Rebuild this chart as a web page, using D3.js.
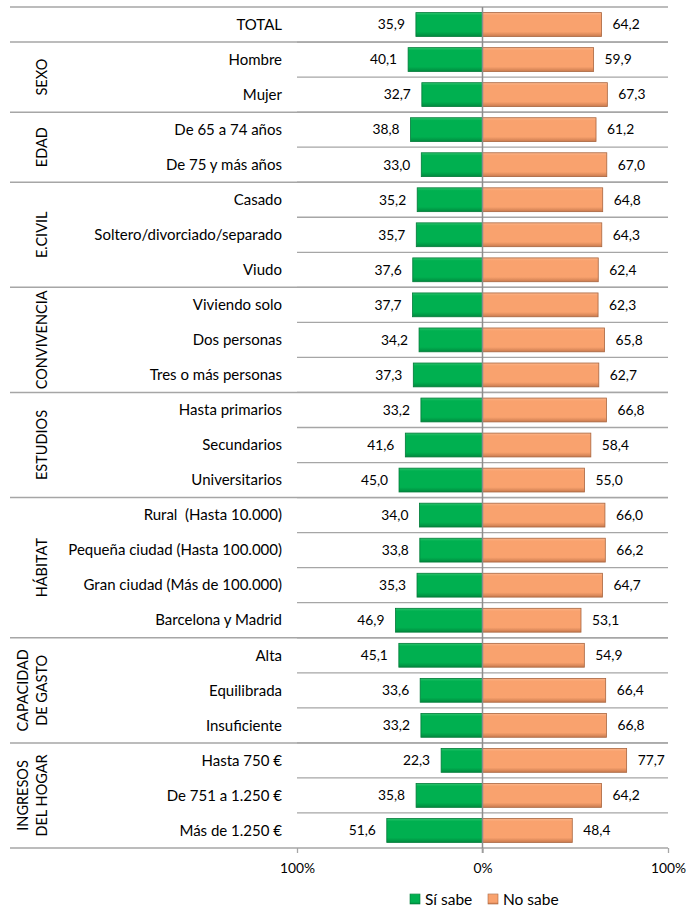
<!DOCTYPE html>
<html>
<head>
<meta charset="utf-8">
<script src="https://cdn.jsdelivr.net/npm/d3@7"></script>
<style>
  body { margin: 0; background: #fff; }
  text { font-family: Lato, "Open Sans", sans-serif; fill: #000; white-space: pre; }
</style>
</head>
<body>
<div id="graph"></div>
<script>
const categories = ["TOTAL", "Hombre", "Mujer", "De 65 a 74 años", "De 75 y más años",
  "Casado", "Soltero/divorciado/separado", "Viudo", "Viviendo solo", "Dos personas",
  "Tres o más personas", "Hasta primarios", "Secundarios", "Universitarios",
  "Rural  (Hasta 10.000)", "Pequeña ciudad (Hasta 100.000)", "Gran ciudad (Más de 100.000)",
  "Barcelona y Madrid", "Alta", "Equilibrada", "Insuficiente", "Hasta 750 €",
  "De 751 a 1.250 €", "Más de 1.250 €"];
const siSabe = [35.9, 40.1, 32.7, 38.8, 33.0, 35.2, 35.7, 37.6, 37.7, 34.2, 37.3, 33.2, 41.6,
  45.0, 34.0, 33.8, 35.3, 46.9, 45.1, 33.6, 33.2, 22.3, 35.8, 51.6];
const noSabe = [64.2, 59.9, 67.3, 61.2, 67.0, 64.8, 64.3, 62.4, 62.3, 65.8, 62.7, 66.8, 58.4,
  55.0, 66.0, 66.2, 64.7, 53.1, 54.9, 66.4, 66.8, 77.7, 64.2, 48.4];
const groupNames = [[""], ["SEXO"], ["EDAD"], ["E.CIVIL"], ["CONVIVENCIA"], ["ESTUDIOS"],
  ["HÁBITAT"], ["CAPACIDAD", "DE GASTO"], ["INGRESOS", "DEL HOGAR"]];
const groupSizes = [1, 2, 2, 3, 3, 3, 4, 3, 3];
const tickValues = [-100, 0, 100];
const seriesNames = ["Sí sabe", "No sabe"];

const width = 686;
const height = 912;
const plotTop = 7;
const plotBottom = 848;
const lineLeft = 10;
const lineRight = 668;

const green = "#00b050";
const greenEdge = "#007a38";
const orange = "#f9a26e";
const orangeEdge = "#a8653f";
const gridColor = "#a6a6a6";

const svg = d3.select("#graph").append("svg")
  .attr("width", width)
  .attr("height", height);

const defs = svg.append("defs");
function bevel(id, c0, c1, c2) {
  const g = defs.append("linearGradient").attr("id", id)
    .attr("x1", 0).attr("y1", 0).attr("x2", 0).attr("y2", 1);
  g.append("stop").attr("offset", "0%").attr("stop-color", c0);
  g.append("stop").attr("offset", "12%").attr("stop-color", c1);
  g.append("stop").attr("offset", "80%").attr("stop-color", c1);
  g.append("stop").attr("offset", "100%").attr("stop-color", c2);
}
bevel("gGreen", "#2cc46c", green, "#008a3e");
bevel("gOrange", "#fbb68c", orange, "#c97a4e");

const xScale = d3.scaleLinear().domain([-100, 100]).range([297, lineRight]);
const yScale = d3.scaleBand().domain(categories).range([plotTop, plotBottom]).paddingInner(0);
const barH = yScale.bandwidth() * 0.68;

// row lines inside the plot area
svg.append("g").selectAll("line")
  .data(categories.slice(1))
  .join("line")
  .attr("x1", 297).attr("x2", lineRight)
  .attr("y1", d => yScale(d)).attr("y2", d => yScale(d))
  .attr("stroke", gridColor).attr("stroke-width", 1.3);

// group separators across full width
const starts = d3.cumsum([0, ...groupSizes]);
svg.append("g").selectAll("line")
  .data(starts)
  .join("line")
  .attr("x1", lineLeft).attr("x2", lineRight)
  .attr("y1", d => d < categories.length ? yScale(categories[d]) : plotBottom)
  .attr("y2", d => d < categories.length ? yScale(categories[d]) : plotBottom)
  .attr("stroke", gridColor).attr("stroke-width", 1.5);

// bars
const rows = categories.map((c, i) => ({c, si: siSabe[i], no: noSabe[i]}));
const bars = svg.append("g");
bars.selectAll(".si")
  .data(rows)
  .join("rect")
  .attr("x", d => xScale(-d.si))
  .attr("y", d => yScale(d.c) + (yScale.bandwidth() - barH) / 2)
  .attr("width", d => xScale(0) - xScale(-d.si))
  .attr("height", barH)
  .attr("fill", "url(#gGreen)")
  .attr("stroke", greenEdge).attr("stroke-width", 0.8);
bars.selectAll(".no")
  .data(rows)
  .join("rect")
  .attr("x", xScale(0))
  .attr("y", d => yScale(d.c) + (yScale.bandwidth() - barH) / 2)
  .attr("width", d => xScale(d.no) - xScale(0))
  .attr("height", barH)
  .attr("fill", "url(#gOrange)")
  .attr("stroke", orangeEdge).attr("stroke-width", 0.8);

const fmt = v => v.toFixed(1).replace(".", ",");
const labels = svg.append("g").attr("font-size", 13.8);
labels.selectAll(".lsi")
  .data(rows)
  .join("text")
  .attr("x", d => xScale(-d.si) - 11)
  .attr("y", d => yScale(d.c) + yScale.bandwidth() / 2)
  .attr("dy", "0.35em")
  .attr("text-anchor", "end")
  .text(d => fmt(d.si));
labels.selectAll(".lno")
  .data(rows)
  .join("text")
  .attr("x", d => xScale(d.no) + 11)
  .attr("y", d => yScale(d.c) + yScale.bandwidth() / 2)
  .attr("dy", "0.35em")
  .text(d => fmt(d.no));

// zero line
svg.append("line")
  .attr("x1", xScale(0)).attr("x2", xScale(0))
  .attr("y1", plotTop).attr("y2", plotBottom + 5)
  .attr("stroke", "#8c8c8c").attr("stroke-width", 1.5);

// category labels
svg.append("g").attr("font-size", 15)
  .selectAll("text")
  .data(categories)
  .join("text")
  .attr("x", 282)
  .attr("y", d => yScale(d) + yScale.bandwidth() / 2)
  .attr("dy", "0.35em")
  .attr("text-anchor", "end")
  .text(d => d);

// group labels (rotated)
const gl = svg.append("g").attr("font-size", 14.5);
groupNames.forEach((lines, gi) => {
  const first = categories[starts[gi]];
  const yMid = yScale(first) + groupSizes[gi] * yScale.step() / 2;
  const n = lines.length;
  lines.forEach((t, li) => {
    const x = 40 + (li - (n - 1)) * 19 + 2;
    gl.append("text")
      .attr("transform", `translate(${x},${yMid}) rotate(-90)`)
      .attr("text-anchor", "middle")
      .attr("dy", "0.35em")
      .text(t);
  });
});

// x axis
const xAxis = d3.axisBottom(xScale)
  .tickValues(tickValues)
  .tickSize(5)
  .tickFormat(d => Math.abs(d) + "%");
const axisG = svg.append("g")
  .attr("transform", `translate(0,${plotBottom})`)
  .call(xAxis);
axisG.select(".domain").remove();
axisG.selectAll(".tick line").attr("stroke", gridColor).attr("stroke-width", 1.3);
axisG.selectAll(".tick text")
  .attr("font-size", 13.8)
  .attr("font-family", "Lato, sans-serif")
  .attr("fill", "#000")
  .attr("y", 15);

// legend
const legend = svg.append("g").attr("font-size", 15.5);
const legendItems = [
  {name: seriesNames[0], fill: "url(#gGreen)", edge: greenEdge, x: 410},
  {name: seriesNames[1], fill: "url(#gOrange)", edge: orangeEdge, x: 488}
];
legend.selectAll("rect")
  .data(legendItems)
  .join("rect")
  .attr("x", d => d.x).attr("y", 894)
  .attr("width", 10).attr("height", 10)
  .attr("fill", d => d.fill)
  .attr("stroke", d => d.edge).attr("stroke-width", 0.6);
legend.selectAll("text")
  .data(legendItems)
  .join("text")
  .attr("x", d => d.x + 15).attr("y", 900)
  .attr("dy", "0.35em")
  .text(d => d.name);
</script>
</body>
</html>
